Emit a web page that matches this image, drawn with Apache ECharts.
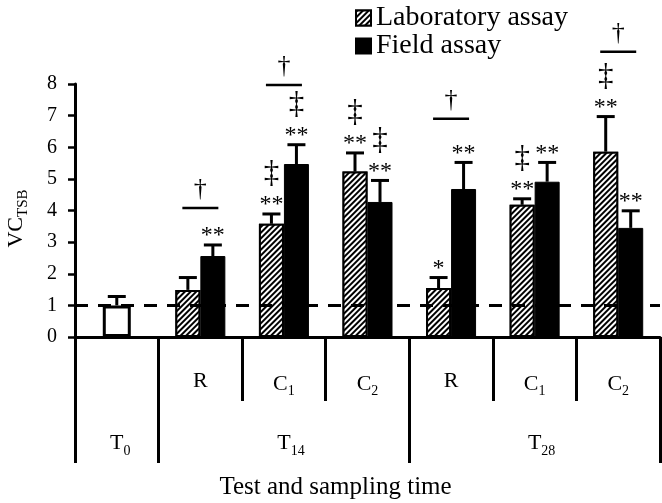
<!DOCTYPE html>
<html><head><meta charset="utf-8">
<script src="https://cdn.jsdelivr.net/npm/echarts@6/dist/echarts.min.js"></script>
<style>html,body{margin:0;padding:0;background:#fff}#c{width:662px;height:503px}</style>
</head><body><div id="c"></div>
<script>
// ---- data ----
const categories = ['T0', 'T14 R', 'T14 C1', 'T14 C2', 'T28 R', 'T28 C1', 'T28 C2'];
const testMain = ['', 'R', 'C', 'C', 'R', 'C', 'C'];
const testSub = ['', '', '1', '2', '', '1', '2'];
const timeMain = ['T', '', 'T', '', '', 'T', ''];
const timeSub = ['0', '', '14', '', '', '28', ''];
const yTicks = [0, 1, 2, 3, 4, 5, 6, 7, 8];

const controlValues = [1.0, null, null, null, null, null, null];
const controlErrTop = [1.28, null, null, null, null, null, null];

const labValues = [null, 1.49, 3.58, 5.23, 1.55, 4.18, 5.86];
const labErrTop = [null, 1.88, 3.89, 5.82, 1.88, 4.37, 6.97];
const labMarks = ['', '', '**', '**', '*', '**', '**'];
const labDaggers = ['', '', '‡', '‡', '', '‡', '‡'];

const fieldValues = [null, 2.56, 5.47, 4.27, 4.68, 4.91, 3.45];
const fieldErrTop = [null, 2.91, 6.08, 4.95, 5.52, 5.52, 3.99];
const fieldMarks = ['', '**', '**', '**', '**', '**', '**'];
const fieldDaggers = ['', '', '‡', '‡', '', '', ''];

const compareLevels = [null, 4.08, 7.97, null, 6.90, null, 9.02];
const referenceLevel = 1;

// ---- styling ----
const FONT = '"Liberation Serif", "Times New Roman", serif';
const BAR_W = 25;
const CTRL_W = 28;

function errorRenderer(marks, daggers, shift) {
  return function (params, api) {
    const i = api.value(0);
    const p0 = api.coord([i, api.value(1)]);
    const p1 = api.coord([i, api.value(2)]);
    const x = p0[0] + shift;
    const children = [
      { type: 'line', shape: { x1: x, y1: p0[1], x2: x, y2: p1[1] }, style: { stroke: '#000', lineWidth: 3 } },
      { type: 'line', shape: { x1: x - 9, y1: p1[1], x2: x + 9, y2: p1[1] }, style: { stroke: '#000', lineWidth: 3 } }
    ];
    if (marks && marks[i]) {
      children.push({ type: 'text', style: { text: marks[i], x: x, y: p1[1] - 9, align: 'center', verticalAlign: 'middle', font: '24px ' + FONT, fill: '#000' } });
    }
    if (daggers && daggers[i]) {
      children.push({ type: 'text', style: { text: daggers[i], x: x, y: p1[1] - 40, align: 'center', verticalAlign: 'middle', font: '31px ' + FONT, fill: '#000' } });
    }
    return { type: 'group', children: children };
  };
}
function errData(vals, tops) {
  const out = [];
  vals.forEach(function (v, i) { if (v != null) out.push([i, v, tops[i]]); });
  return out;
}
function compareRenderer(params, api) {
  const i = api.value(0);
  const p = api.coord([i, api.value(1)]);
  return {
    type: 'group', children: [
      { type: 'line', shape: { x1: p[0] - 18, y1: p[1], x2: p[0] + 18, y2: p[1] }, style: { stroke: '#000', lineWidth: 2.5 } },
      { type: 'text', style: { text: '†', x: p[0], y: p[1] - 19, align: 'center', verticalAlign: 'middle', font: '26px ' + FONT, fill: '#000' } }
    ]
  };
}

const chart = echarts.init(document.getElementById('c'), null, { renderer: 'canvas' });
const option = {
  animation: false,
  backgroundColor: '#fff',
  grid: { left: 75, right: 2, top: 84, bottom: 166, outerBoundsMode: 'none' },
  legend: {
    data: ['Laboratory assay', 'Field assay'],
    orient: 'vertical', left: 355, top: 4, padding: 0,
    itemWidth: 15, itemHeight: 15, itemGap: 0,
    icon: 'rect',
    textStyle: { fontFamily: FONT, fontSize: 28, color: '#000' }
  },
  xAxis: [
    {
      type: 'category', data: categories, position: 'bottom',
      axisLine: { show: true, onZero: false, lineStyle: { color: '#000', width: 3 } },
      axisTick: { show: true, interval: function (idx) { return [2, 3, 5, 6].indexOf(idx) >= 0; }, length: 64, lineStyle: { color: '#000', width: 3 } },
      axisLabel: {
        interval: 0, margin: 33, color: '#000',
        formatter: function (v, idx) {
          if (!testMain[idx]) return '';
          return '{m|' + testMain[idx] + '}' + (testSub[idx] ? '{s|' + testSub[idx] + '}' : '');
        },
        rich: {
          m: { fontFamily: FONT, fontSize: 22, color: '#000' },
          s: { fontFamily: FONT, fontSize: 14, color: '#000', padding: [14, 0, 0, 0] }
        }
      },
      splitLine: { show: false }
    },
    {
      type: 'category', data: categories, position: 'bottom',
      axisLine: { show: false },
      axisTick: { show: true, interval: function (idx) { return [0, 1, 4].indexOf(idx) >= 0; }, length: 126, lineStyle: { color: '#000', width: 3 } },
      axisLabel: {
        interval: 0, margin: 92, color: '#000',
        formatter: function (v, idx) {
          if (!timeMain[idx]) return '';
          return '{h|' + timeSub[idx] + '}{m|' + timeMain[idx] + '}{s|' + timeSub[idx] + '}';
        },
        rich: {
          h: { fontFamily: FONT, fontSize: 14, color: 'rgba(0,0,0,0)' },
          m: { fontFamily: FONT, fontSize: 22, color: '#000' },
          s: { fontFamily: FONT, fontSize: 14, color: '#000', padding: [15, 0, 0, 0] }
        }
      },
      name: 'Test and sampling time', nameLocation: 'middle', nameGap: 138,
      nameTextStyle: { fontFamily: FONT, fontSize: 25, color: '#000', padding: [0, 64, 0, 0] },
      splitLine: { show: false }
    }
  ],
  yAxis: {
    type: 'value', min: yTicks[0], max: yTicks[yTicks.length - 1], interval: 1,
    axisLine: { show: true, lineStyle: { color: '#000', width: 3 } },
    axisTick: { show: true, length: 7, lineStyle: { color: '#000', width: 2.5 } },
    axisLabel: { fontFamily: FONT, fontSize: 20, color: '#000', margin: 18 },
    splitLine: { show: false },
    name: '{m|VC}{s|TSB}', nameLocation: 'middle', nameGap: 44, nameRotate: 90,
    nameTextStyle: {
      padding: [0, 16, 0, 0],
      rich: {
        m: { fontFamily: FONT, fontSize: 22, color: '#000' },
        s: { fontFamily: FONT, fontSize: 15, color: '#000', padding: [14, 0, 0, 0] }
      }
    }
  },
  series: [
    {
      name: 'Laboratory assay', type: 'bar', xAxisIndex: 0, barWidth: BAR_W, barGap: '0%',
      data: labValues.map(function (v) { return v == null ? '-' : v; }),
      itemStyle: {
        color: '#fff', borderColor: '#000', borderWidth: 2,
        decal: { symbol: 'rect', symbolSize: 1, dashArrayX: [1, 0], dashArrayY: [2, 2], rotation: -Math.PI / 4, color: '#000', backgroundColor: '#fff' }
      },
      markLine: {
        silent: true, symbol: 'none', label: { show: false },
        lineStyle: { color: '#000', width: 3, type: [13, 10] },
        data: [{ yAxis: referenceLevel }]
      },
      z: 2
    },
    {
      name: 'Field assay', type: 'bar', xAxisIndex: 0, barWidth: BAR_W, barGap: '0%',
      data: fieldValues.map(function (v) { return v == null ? '-' : v; }),
      itemStyle: { color: '#000', borderColor: '#000', borderWidth: 1 },
      z: 2
    },
    {
      name: 'Control', type: 'bar', xAxisIndex: 1, barWidth: CTRL_W,
      data: controlValues.map(function (v) { return v == null ? '-' : v; }),
      itemStyle: { color: '#fff', borderColor: '#000', borderWidth: 3 },
      z: 2
    },
    {
      name: 'labErr', type: 'custom', xAxisIndex: 0, renderItem: errorRenderer(labMarks, labDaggers, -BAR_W / 2),
      data: errData(labValues, labErrTop), encode: { x: 0, y: [1, 2] }, z: 3, silent: true
    },
    {
      name: 'fieldErr', type: 'custom', xAxisIndex: 0, renderItem: errorRenderer(fieldMarks, fieldDaggers, BAR_W / 2),
      data: errData(fieldValues, fieldErrTop), encode: { x: 0, y: [1, 2] }, z: 3, silent: true
    },
    {
      name: 'ctrlErr', type: 'custom', xAxisIndex: 1, renderItem: errorRenderer(null, null, 0),
      data: errData(controlValues, controlErrTop), encode: { x: 0, y: [1, 2] }, z: 1, silent: true
    },
    {
      name: 'compare', type: 'custom', xAxisIndex: 0, renderItem: compareRenderer,
      data: compareLevels.map(function (v, i) { return v == null ? null : [i, v]; }).filter(function (d) { return d; }),
      encode: { x: 0, y: 1 }, z: 3, silent: true, clip: false
    }
  ]
};
chart.setOption(option);
</script>
</body></html>
